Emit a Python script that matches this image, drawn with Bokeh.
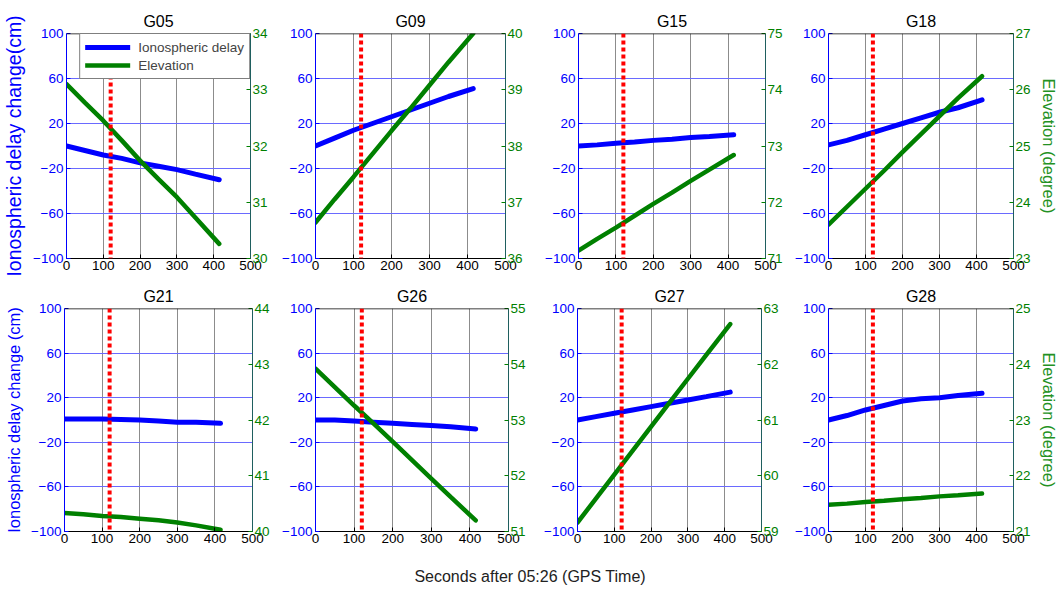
from bokeh.plotting import figure
from bokeh.models import Range1d, LinearAxis, FixedTicker, Span, Legend, LegendItem, Div
from bokeh.layouts import column, row
from bokeh.embed import file_html
from bokeh.resources import INLINE

# Seconds after 05:26 GPS time at which each series is sampled
TIME = [0, 50, 100, 150, 200, 250, 300, 350, 415]

SATELLITES = ["G05", "G09", "G15", "G18", "G21", "G26", "G27", "G28"]

# Ionospheric delay change (cm)
G05_IONO = [0, -4, -8, -11, -15, -18, -21, -25, -30]
G09_IONO = [0, 7, 14, 20, 26, 32, 38, 44, 51]
G15_IONO = [0, 1, 2.5, 3.5, 5, 6, 7.5, 8.5, 10]
G18_IONO = [1, 5, 10, 15, 20, 25, 30, 34, 41]
G21_IONO = [1, 1, 1, 0.5, 0, -1, -2, -2, -3]
G26_IONO = [0, 0, -1, -2, -3, -4, -5, -6, -8]
G27_IONO = [0, 3, 6, 9, 12, 15, 18, 21, 25]
G28_IONO = [0, 4, 9, 13, 17, 19, 20, 22, 24]

# Elevation (degree)
G05_ELEV = [33.10, 32.77, 32.45, 32.10, 31.74, 31.41, 31.09, 30.73, 30.26]
G09_ELEV = [36.64, 37.05, 37.45, 37.86, 38.27, 38.67, 39.08, 39.49, 40.00]
G15_ELEV = [71.14, 71.35, 71.55, 71.76, 71.97, 72.17, 72.38, 72.58, 72.84]
G18_ELEV = [23.60, 23.92, 24.24, 24.56, 24.89, 25.21, 25.53, 25.85, 26.24]
G21_ELEV = [40.33, 40.31, 40.28, 40.26, 40.23, 40.20, 40.16, 40.11, 40.03]
G26_ELEV = [53.92, 53.59, 53.26, 52.94, 52.61, 52.28, 51.95, 51.62, 51.20]
G27_ELEV = [59.16, 59.59, 60.02, 60.45, 60.88, 61.31, 61.74, 62.17, 62.72]
G28_ELEV = [21.48, 21.50, 21.53, 21.55, 21.58, 21.60, 21.63, 21.65, 21.68]

IONO = [G05_IONO, G09_IONO, G15_IONO, G18_IONO, G21_IONO, G26_IONO, G27_IONO, G28_IONO]
ELEV = [G05_ELEV, G09_ELEV, G15_ELEV, G18_ELEV, G21_ELEV, G26_ELEV, G27_ELEV, G28_ELEV]
ELEV_LOW = [30, 36, 71, 23, 40, 51, 59, 21]

X_TICKS = [0, 100, 200, 300, 400, 500]
Y_TICKS = [-100, -60, -20, 20, 60, 100]
EVENT_TIME = 120

FONT = "Liberation Sans"
BLUE = "#0000ff"
GREEN = "#008000"
RIGHT_LINE = "#1f5f5f"

# (left border, frame width, right border) per panel, row by row
COLS = [
    [(64, 186, 25), (40, 190, 25), (48, 187, 25), (38, 185, 47)],
    [(64, 188, 25), (38, 193, 25), (44, 184, 25), (42, 185, 47)],
]
# (top border, frame height, bottom border) per row
ROWS = [(33, 225, 20), (30, 223, 24)]


def make_panel(idx, left_label=None, left_label_size="16.5px", right_label=None, with_legend=False):
    r, c = divmod(idx, 4)
    lb, fw, rb = COLS[r][c]
    tb, fh, bb = ROWS[r]
    lo = ELEV_LOW[idx]
    p = figure(
        width=lb + fw + rb, height=tb + fh + bb,
        x_range=Range1d(0, 500), y_range=Range1d(-100, 100),
        min_border_left=lb, min_border_right=rb,
        min_border_top=tb, min_border_bottom=bb,
        output_backend="svg", toolbar_location=None,
        outline_line_color=None, background_fill_color="white",
        title=SATELLITES[idx],
    )
    p.extra_y_ranges = {"elev": Range1d(lo, lo + 4)}

    p.title.align = "center"
    p.title.text_font = FONT
    p.title.text_font_size = "16px"
    p.title.text_font_style = "normal"
    p.title.text_color = "black"
    p.title.standoff = 7

    # bottom axis
    xa = p.xaxis[0]
    xa.ticker = FixedTicker(ticks=X_TICKS)
    xa.axis_line_color = "black"
    xa.major_tick_line_color = "black"
    xa.major_tick_in = 4
    xa.major_tick_out = 0
    xa.minor_tick_line_color = None
    xa.major_label_standoff = 2
    xa.major_label_text_font = FONT
    xa.major_label_text_font_size = "13.5px"
    xa.major_label_text_color = "black"

    # left axis (ionospheric delay)
    ya = p.yaxis[0]
    ya.ticker = FixedTicker(ticks=Y_TICKS)
    ya.axis_line_color = BLUE
    ya.major_tick_line_color = BLUE
    ya.major_tick_in = 4
    ya.major_tick_out = 0
    ya.minor_tick_line_color = None
    ya.major_label_standoff = 3
    ya.major_label_text_font = FONT
    ya.major_label_text_font_size = "13.5px"
    ya.major_label_text_color = BLUE
    if left_label:
        ya.axis_label = left_label
        ya.axis_label_text_font = FONT
        ya.axis_label_text_font_size = left_label_size
        ya.axis_label_text_font_style = "normal"
        ya.axis_label_text_color = BLUE
        ya.axis_label_standoff = 5

    # right axis (elevation)
    ra = LinearAxis(y_range_name="elev", ticker=FixedTicker(ticks=list(range(lo, lo + 5))))
    ra.axis_line_color = RIGHT_LINE
    ra.major_tick_line_color = GREEN
    ra.major_tick_in = 4
    ra.major_tick_out = 0
    ra.minor_tick_line_color = None
    ra.major_label_standoff = 2
    ra.major_label_text_font = FONT
    ra.major_label_text_font_size = "13.5px"
    ra.major_label_text_color = GREEN
    if right_label:
        ra.axis_label = right_label
        ra.axis_label_text_font = FONT
        ra.axis_label_text_font_size = "16.5px"
        ra.axis_label_text_font_style = "normal"
        ra.axis_label_text_color = "#239123"
        ra.axis_label_standoff = 6
    p.add_layout(ra, "right")

    # grid
    p.xgrid.ticker = FixedTicker(ticks=[100, 200, 300, 400])
    p.xgrid.grid_line_color = "#8c8c8c"
    p.xgrid.grid_line_width = 1
    p.ygrid.ticker = FixedTicker(ticks=[-60, -20, 20, 60])
    p.ygrid.grid_line_color = "#6a6aff"
    p.ygrid.grid_line_width = 1

    # black top edge of the box
    p.add_layout(Span(location=100, dimension="width", line_color="black", line_width=1.5))

    r_iono = p.line(TIME, IONO[idx], line_color=BLUE, line_width=5, line_cap="round")
    r_elev = p.line(TIME, ELEV[idx], y_range_name="elev", line_color=GREEN,
                    line_width=4.5, line_cap="round")

    if with_legend:
        leg = Legend(items=[LegendItem(label="Ionospheric delay", renderers=[r_iono]),
                            LegendItem(label="Elevation", renderers=[r_elev])],
                     location="top_right", margin=0, padding=5, spacing=2,
                     glyph_width=45, glyph_height=16, label_height=16,
                     label_standoff=8, label_text_font=FONT,
                     label_text_font_size="13.5px", border_line_color="black",
                     border_line_width=1, background_fill_color="white",
                     background_fill_alpha=1.0)
        p.add_layout(leg)

    p.add_layout(Span(location=EVENT_TIME, dimension="height", line_color="#ff0000",
                      line_width=4, line_dash="4 3"))
    return p


panels = []
for i in range(8):
    kw = {}
    if i == 0:
        kw = dict(left_label="Ionospheric delay change(cm)", left_label_size="19.5px", with_legend=True)
    elif i == 4:
        kw = dict(left_label="Ionospheric delay change (cm)")
    elif i in (3, 7):
        kw = dict(right_label="Elevation (degree)")
    panels.append(make_panel(i, **kw))

xlabel = Div(
    text='<div style="width:1060px;text-align:center;font-family:\'Liberation Sans\';'
         'font-size:16px;color:#222;padding-top:11px;">Seconds after 05:26 (GPS Time)</div>',
    width=1060, height=35, margin=(0, 0, 0, 0),
)

layout = column(row(*panels[:4], spacing=0), row(*panels[4:], spacing=0), xlabel, spacing=0)

with open("out.html", "w") as f:
    f.write(file_html(layout, INLINE))
